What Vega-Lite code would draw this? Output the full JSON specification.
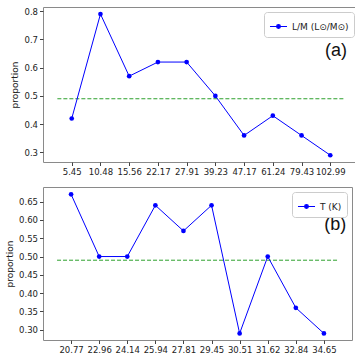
{
  "$schema": "https://vega.github.io/schema/vega-lite/v6.json",
  "padding": {"left": 5, "top": 6, "right": 4, "bottom": 2},
  "background": "white",
  "config": {
    "font": "DejaVu Sans",
    "view": {"stroke": "#8a8a8a", "strokeWidth": 1},
    "axis": {"domain": false, "grid": false, "tickColor": "#444", "tickSize": 3.5, "labelColor": "#222", "labelFontSize": 8.5, "labelFont": "DejaVu Sans", "titleFont": "DejaVu Sans", "titleFontSize": 9, "titleFontWeight": "normal", "titleColor": "#222", "labelPadding": 2, "labelOverlap": false, "labelBound": false},
    "legend": {"labelFont": "DejaVu Sans"}
  },
  "datasets": {
    "lm": [
      {"bin": "5.45", "proportion": 0.42, "series": "L/M (L⊙/M⊙)"},
      {"bin": "10.48", "proportion": 0.79, "series": "L/M (L⊙/M⊙)"},
      {"bin": "15.56", "proportion": 0.57, "series": "L/M (L⊙/M⊙)"},
      {"bin": "22.17", "proportion": 0.62, "series": "L/M (L⊙/M⊙)"},
      {"bin": "27.91", "proportion": 0.62, "series": "L/M (L⊙/M⊙)"},
      {"bin": "39.23", "proportion": 0.50, "series": "L/M (L⊙/M⊙)"},
      {"bin": "47.17", "proportion": 0.36, "series": "L/M (L⊙/M⊙)"},
      {"bin": "61.24", "proportion": 0.43, "series": "L/M (L⊙/M⊙)"},
      {"bin": "79.43", "proportion": 0.36, "series": "L/M (L⊙/M⊙)"},
      {"bin": "102.99", "proportion": 0.29, "series": "L/M (L⊙/M⊙)"}
    ],
    "t": [
      {"bin": "20.77", "proportion": 0.67, "series": "T (K)"},
      {"bin": "22.96", "proportion": 0.50, "series": "T (K)"},
      {"bin": "24.14", "proportion": 0.50, "series": "T (K)"},
      {"bin": "25.94", "proportion": 0.64, "series": "T (K)"},
      {"bin": "27.81", "proportion": 0.57, "series": "T (K)"},
      {"bin": "29.45", "proportion": 0.64, "series": "T (K)"},
      {"bin": "30.51", "proportion": 0.29, "series": "T (K)"},
      {"bin": "31.62", "proportion": 0.50, "series": "T (K)"},
      {"bin": "32.84", "proportion": 0.36, "series": "T (K)"},
      {"bin": "34.65", "proportion": 0.29, "series": "T (K)"}
    ]
  },
  "vconcat": [
    {
      "width": 316,
      "height": 155,
      "layer": [
        {
          "data": {"values": [{"level": 0.49}]},
          "mark": {"type": "rule", "color": "#2ca02c", "strokeWidth": 1, "strokeDash": [4, 2]},
          "encoding": {
            "x": {"datum": -0.5, "type": "quantitative", "scale": {"domain": [-1, 10], "nice": false, "zero": false}, "axis": null},
            "x2": {"datum": 9.5},
            "y": {"field": "level", "type": "quantitative", "scale": {"domain": [0.266, 0.815], "nice": false, "zero": false}, "axis": {"values": [0.3, 0.4, 0.5, 0.6, 0.7, 0.8], "format": ".1f", "title": "proportion", "labelOverlap": false, "tickCount": 6}}
          }
        },
        {
          "data": {"name": "lm"},
          "mark": {"type": "line", "strokeWidth": 1, "point": {"filled": true, "size": 22}},
          "encoding": {
            "x": {"field": "bin", "type": "ordinal", "sort": null, "scale": {"type": "point", "padding": 1}, "axis": {"title": null, "labelAngle": 0}},
            "y": {"field": "proportion", "type": "quantitative", "axis": {"values": [0.3, 0.4, 0.5, 0.6, 0.7, 0.8], "format": ".1f", "title": "proportion", "labelOverlap": false, "tickCount": 6}},
            "color": {"field": "series", "type": "nominal", "scale": {"range": ["#0000ff"]}, "legend": {"title": null, "orient": "top-right", "offset": 5, "fillColor": "white", "strokeColor": "#cccccc", "cornerRadius": 3, "padding": 5, "labelFontSize": 9, "labelColor": "#222", "symbolType": "M-1,0L1,0M-0.22,0A0.22,0.22,0,1,1,0.22,0A0.22,0.22,0,1,1,-0.22,0Z", "symbolSize": 290, "symbolStrokeWidth": 1.2, "encode": {"symbols": {"update": {"fill": {"value": "#0000ff"}, "stroke": {"value": "#0000ff"}}}}}}
          }
        },
        {
          "data": {"values": [{"tag": "(a)"}]},
          "mark": {"type": "text", "fontSize": 18, "font": "Liberation Sans", "color": "#111", "baseline": "middle", "align": "center"},
          "encoding": {
            "x": {"datum": 9.2, "type": "quantitative", "scale": {"domain": [-1, 10], "nice": false, "zero": false}, "axis": null},
            "y": {"datum": 0.66, "type": "quantitative"},
            "text": {"field": "tag"}
          }
        }
      ],
      "resolve": {"scale": {"x": "independent"}}
    },
    {
      "width": 309,
      "height": 153,
      "layer": [
        {
          "data": {"values": [{"level": 0.49}]},
          "mark": {"type": "rule", "color": "#2ca02c", "strokeWidth": 1, "strokeDash": [4, 2]},
          "encoding": {
            "x": {"datum": -0.5, "type": "quantitative", "scale": {"domain": [-1, 10], "nice": false, "zero": false}, "axis": null},
            "x2": {"datum": 9.5},
            "y": {"field": "level", "type": "quantitative", "scale": {"domain": [0.272, 0.69], "nice": false, "zero": false}, "axis": {"values": [0.3, 0.35, 0.4, 0.45, 0.5, 0.55, 0.6, 0.65], "format": ".2f", "title": "proportion", "labelOverlap": false, "tickCount": 8}}
          }
        },
        {
          "data": {"name": "t"},
          "mark": {"type": "line", "strokeWidth": 1, "point": {"filled": true, "size": 22}},
          "encoding": {
            "x": {"field": "bin", "type": "ordinal", "sort": null, "scale": {"type": "point", "padding": 1}, "axis": {"title": null, "labelAngle": 0}},
            "y": {"field": "proportion", "type": "quantitative", "axis": {"values": [0.3, 0.35, 0.4, 0.45, 0.5, 0.55, 0.6, 0.65], "format": ".2f", "title": "proportion", "labelOverlap": false, "tickCount": 8}},
            "color": {"field": "series", "type": "nominal", "scale": {"range": ["#0000ff"]}, "legend": {"title": null, "orient": "top-right", "offset": 5, "fillColor": "white", "strokeColor": "#cccccc", "cornerRadius": 3, "padding": 5, "labelFontSize": 9, "labelColor": "#222", "symbolType": "M-1,0L1,0M-0.22,0A0.22,0.22,0,1,1,0.22,0A0.22,0.22,0,1,1,-0.22,0Z", "symbolSize": 290, "symbolStrokeWidth": 1.2, "encode": {"symbols": {"update": {"fill": {"value": "#0000ff"}, "stroke": {"value": "#0000ff"}}}}}}
          }
        },
        {
          "data": {"values": [{"tag": "(b)"}]},
          "mark": {"type": "text", "fontSize": 18, "font": "Liberation Sans", "color": "#111", "baseline": "middle", "align": "center"},
          "encoding": {
            "x": {"datum": 9.4, "type": "quantitative", "scale": {"domain": [-1, 10], "nice": false, "zero": false}, "axis": null},
            "y": {"datum": 0.586, "type": "quantitative"},
            "text": {"field": "tag"}
          }
        }
      ],
      "resolve": {"scale": {"x": "independent", "color": "independent"}, "legend": {"color": "independent"}}
    }
  ],
  "resolve": {"scale": {"color": "independent", "y": "independent"}},
  "spacing": 9,
  "align": "none"
}
